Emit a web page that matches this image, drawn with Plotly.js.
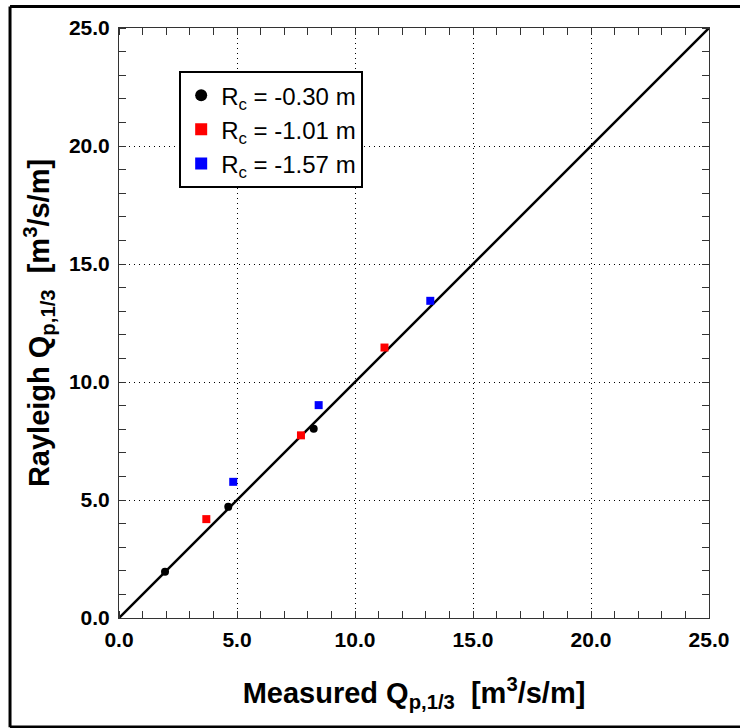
<!DOCTYPE html>
<html>
<head>
<meta charset="utf-8">
<script src="https://cdn.plot.ly/plotly-3.0.1.min.js"></script>
<style>
  html, body { margin: 0; padding: 0; background: #fff; }
  #chart { width: 740px; height: 728px; }
</style>
</head>
<body>
<div id="chart"></div>
<script>
// Data
const seriesNames = ["R<sub>c</sub> = -0.30 m", "R<sub>c</sub> = -1.01 m", "R<sub>c</sub> = -1.57 m"];
const measured030 = [1.95, 4.63, 8.25];
const rayleigh030 = [1.96, 4.71, 8.02];
const measured101 = [3.70, 7.71, 11.25];
const rayleigh101 = [4.19, 7.74, 11.46];
const measured157 = [4.84, 8.46, 13.19];
const rayleigh157 = [5.77, 9.02, 13.44];
const lineX = [0, 25];
const lineY = [0, 25];
const tickVals = [0, 5, 10, 15, 20, 25];
const tickText = ["0.0", "5.0", "10.0", "15.0", "20.0", "25.0"];

const FONT = '"Liberation Sans", Arial, Helvetica, sans-serif';

const traces = [
  { x: lineX, y: lineY, mode: 'lines', line: { color: '#000', width: 2.5 }, showlegend: false, hoverinfo: 'skip' },
  { x: measured030, y: rayleigh030, mode: 'markers', name: seriesNames[0],
    marker: { symbol: 'circle', size: 8, color: '#000' } },
  { x: measured101, y: rayleigh101, mode: 'markers', name: seriesNames[1],
    marker: { symbol: 'square', size: 8, color: '#ff0000' } },
  { x: measured157, y: rayleigh157, mode: 'markers', name: seriesNames[2],
    marker: { symbol: 'square', size: 8, color: '#0000ff' } }
];

const axisCommon = {
  range: [0, 25],
  tickmode: 'array',
  tickvals: tickVals,
  ticktext: tickText,
  ticks: '',
  showline: true,
  linecolor: '#333',
  linewidth: 1,
  mirror: 'allticks',
  showgrid: true,
  gridcolor: '#000',
  gridwidth: 1,
  griddash: '1px,4px',
  zeroline: false,
  tickfont: { family: FONT, size: 21, color: '#000', weight: 'bold' },
  minor: { dtick: 1, tick0: 0, ticks: 'inside', ticklen: 7, tickwidth: 1, tickcolor: '#333', showgrid: false },
  fixedrange: true
};

const layout = {
  width: 740,
  height: 728,
  margin: { l: 119, r: 31, t: 28, b: 110 },
  paper_bgcolor: '#fff',
  plot_bgcolor: '#fff',
  font: { family: FONT, color: '#000' },
  showlegend: true,
  legend: {
    x: 0.102, y: 0.927, xanchor: 'left', yanchor: 'top',
    bgcolor: '#fff', bordercolor: '#000', borderwidth: 2,
    font: { family: FONT, size: 24, color: '#000' },
    itemsizing: 'constant',
    tracegroupgap: 0
  },
  xaxis: Object.assign({}, axisCommon, {
    title: { text: '<b>Measured Q<sub>p,1/3</sub>  [m<sup>3</sup>/s/m]</b>', font: { family: FONT, size: 29, color: '#000' }, standoff: 32 },
    ticklabelstandoff: 3
  }),
  yaxis: Object.assign({}, axisCommon, {
    title: { text: '<b>Rayleigh Q<sub>p,1/3</sub>  [m<sup>3</sup>/s/m]</b>', font: { family: FONT, size: 29, color: '#000' }, standoff: 10 },
    ticklabelstandoff: 4
  }),
  shapes: [
    { type: 'line', xref: 'paper', yref: 'paper', x0: -0.1847, x1: -0.1847, y0: -0.185, y1: 1.0364, line: { color: '#000', width: 3 } },
    { type: 'line', xref: 'paper', yref: 'paper', x0: -0.1847, x1: 1.07, y0: 1.0364, y1: 1.0364, line: { color: '#000', width: 3 } },
    { type: 'line', xref: 'paper', yref: 'paper', x0: -0.1847, x1: 1.07, y0: -0.1847, y1: -0.1847, line: { color: '#000', width: 3 } }
  ]
};

Plotly.newPlot('chart', traces, layout, { displayModeBar: false, staticPlot: true });
</script>
</body>
</html>
